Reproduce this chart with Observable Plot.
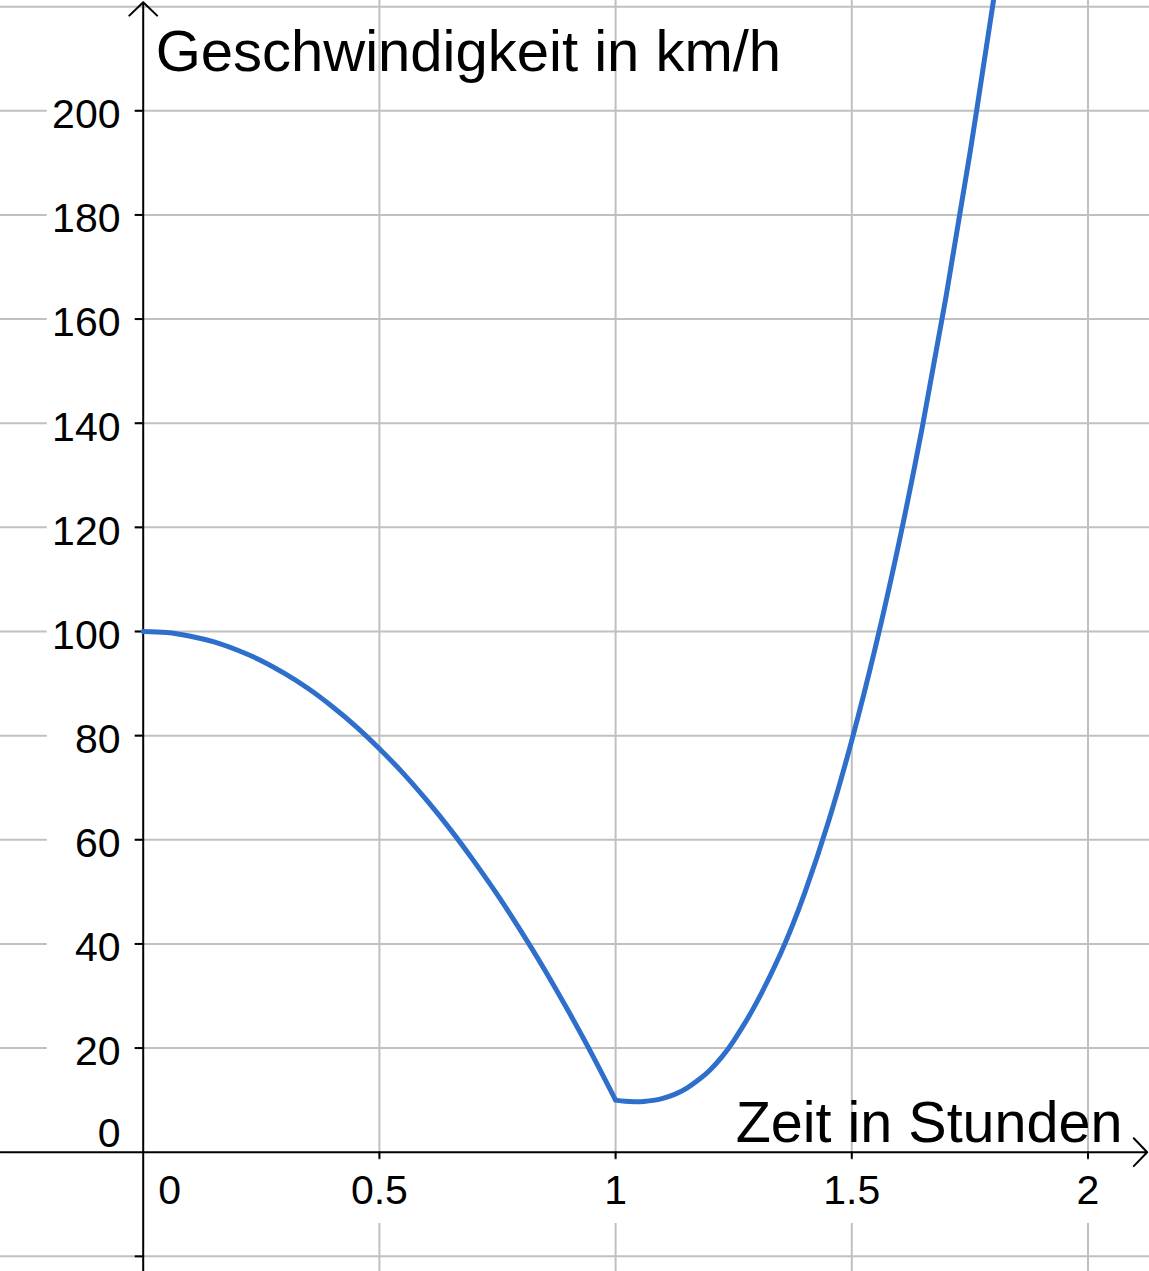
<!DOCTYPE html>
<html>
<head>
<meta charset="utf-8">
<script src="https://cdn.jsdelivr.net/npm/d3@7"></script>
<script src="https://cdn.jsdelivr.net/npm/@observablehq/plot@0.6"></script>
<style>
html, body { margin: 0; padding: 0; background: #fff; overflow: hidden; }
#chart svg { display: block; overflow: hidden; }
</style>
</head>
<body>
<div id="chart"></div>
<script>
// ---- Data ----
// Phase 1 (braking): time in hours, speed in km/h
const phase1Time  = [0, 0.05, 0.1, 0.15, 0.2, 0.25, 0.3, 0.35, 0.4, 0.45, 0.5, 0.55, 0.6, 0.65, 0.7, 0.75, 0.8, 0.85, 0.9, 0.95, 1.0];
const phase1Speed = [100, 99.8, 99.1, 98.0, 96.4, 94.4, 91.9, 89.0, 85.6, 81.8, 77.5, 72.8, 67.6, 62.0, 55.9, 49.4, 42.4, 35.0, 27.1, 18.8, 10];
// Phase 2 (accelerating)
const phase2Time  = [1.0, 1.02, 1.04, 1.06, 1.08, 1.10, 1.125, 1.15, 1.175, 1.20, 1.225, 1.25, 1.275, 1.30, 1.35, 1.40, 1.45, 1.50, 1.55, 1.60, 1.65, 1.70, 1.75, 1.80, 1.82];
const phase2Speed = [10, 9.8, 9.7, 9.75, 9.95, 10.35, 11.1, 12.25, 13.85, 15.8, 18.3, 21.4, 25.0, 29.0, 38.3, 49.7, 63.3, 79.1, 97.0, 117.1, 139.6, 164.6, 191.8, 221.2, 233.6];

// Grid and tick values / labels
const xGridValues = [0.5, 1, 1.5, 2];
const yGridValues = [-20, 20, 40, 60, 80, 100, 120, 140, 160, 180, 200, 220];
const xTickValues = [0.5, 1, 1.5, 2];
const xTickLabels = ["0.5", "1", "1.5", "2"];
const yTickMarkValues = [-20, 20, 40, 60, 80, 100, 120, 140, 160, 180, 200];
const yTickValues = [20, 40, 60, 80, 100, 120, 140, 160, 180, 200];
const yTickLabels = ["20", "40", "60", "80", "100", "120", "140", "160", "180", "200"];
const originLabel = "0";
const xTitle = "Zeit in Stunden";
const yTitle = "Geschwindigkeit in km/h";

// Visible window
const xDomain = [-0.3021, 2.1302];
const yDomain = [-22.91, 221.18];

// ---- Tables built from the arrays ----
const curve = [
  ...phase1Time.map((t, i) => ({time: t, speed: phase1Speed[i], segment: "a"})),
  ...phase2Time.map((t, i) => ({time: t, speed: phase2Speed[i], segment: "b"}))
];
const xTicks = xTickValues.map((v, i) => ({v, label: xTickLabels[i]}));
const yTicks = yTickValues.map((v, i) => ({v, label: yTickLabels[i]}));
const xAxisLine = [{x1: xDomain[0], y1: 0, x2: xDomain[1], y2: 0}];
const yAxisLine = [{x1: 0, y1: yDomain[0], x2: 0, y2: yDomain[1]}];

const FONT = "'Liberation Sans', Arial, Helvetica, sans-serif";
const GRID = "#c0c0c0";
const INK = "#000";
const BLUE = "#2f6fcc";

const chart = Plot.plot({
  width: 1149,
  height: 1271,
  margin: 0,
  style: {fontFamily: FONT, background: "white", color: "black"},
  x: {domain: xDomain, axis: null},
  y: {domain: yDomain, axis: null},
  marks: [
    // grid
    Plot.ruleX(xGridValues, {stroke: GRID, strokeWidth: 2}),
    Plot.ruleY(yGridValues, {stroke: GRID, strokeWidth: 2}),
    // white label backgrounds (interrupt the grid lines like the reference)
    Plot.rect(yTicks, {x1: () => 0, x2: () => 0, y1: "v", y2: "v",
      insetLeft: -96, insetRight: 8, insetTop: -14, insetBottom: -26, fill: "white"}),
    Plot.rect(xTicks, {x1: "v", x2: "v", y1: () => 0, y2: () => 0,
      insetLeft: -32, insetRight: -32, insetTop: 8.3, insetBottom: -71.3, fill: "white"}),
    // tick labels
    Plot.text(yTicks, {x: () => 0, y: "v", text: "label", textAnchor: "end", dx: -22.7, dy: 4.3,
      fontSize: 41, fill: INK}),
    Plot.text([originLabel], {x: () => 0, y: () => 0, text: d => d, textAnchor: "end", dx: -22.7, dy: -18.1,
      fontSize: 41, fill: INK}),
    Plot.text(xTicks, {x: "v", y: () => 0, text: "label", dy: 38.5, fontSize: 41, fill: INK}),
    Plot.text([originLabel], {x: () => 0, y: () => 0, text: d => d, dx: 26.5, dy: 38.5, fontSize: 41, fill: INK}),
    // axes with arrow heads
    Plot.arrow(xAxisLine, {x1: "x1", y1: "y1", x2: "x2", y2: "y2", stroke: INK, strokeWidth: 2,
      headAngle: 92, headLength: 14.5, insetEnd: 2.3}),
    Plot.arrow(yAxisLine, {x1: "x1", y1: "y1", x2: "x2", y2: "y2", stroke: INK, strokeWidth: 2,
      headAngle: 92, headLength: 14.5, insetEnd: 1.7}),
    // tick marks
    Plot.ruleY(yTickMarkValues, {x1: () => 0, x2: () => 0, insetLeft: -8, stroke: INK, strokeWidth: 2}),
    Plot.ruleX(xGridValues, {y1: () => 0, y2: () => 0, insetBottom: -7, stroke: INK, strokeWidth: 2}),
    // the function graph
    Plot.line(curve, {x: "time", y: "speed", z: "segment", stroke: BLUE, strokeWidth: 5,
      curve: "natural", clip: true}),
    // axis titles
    Plot.text([yTitle], {x: () => 0, frameAnchor: "top", text: d => d, textAnchor: "start", lineAnchor: "top",
      dx: 12.5, dy: 29.5, fontSize: 58, fill: INK}),
    Plot.text([xTitle], {y: () => 0, frameAnchor: "right", text: d => d, textAnchor: "end",
      dx: -27, dy: -28.4, fontSize: 57.5, fill: INK})
  ]
});

document.getElementById("chart").appendChild(chart);
</script>
</body>
</html>
